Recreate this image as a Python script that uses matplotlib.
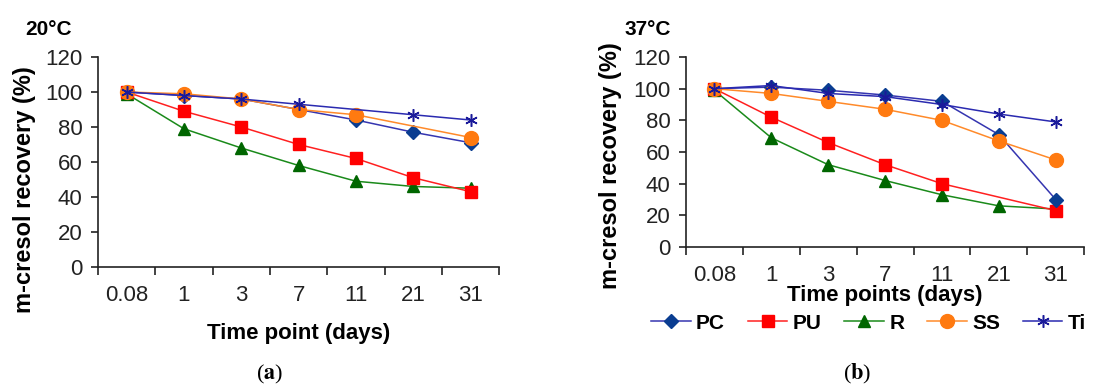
import numpy as np
import matplotlib.pyplot as plt

plt.rcParams['font.family'] = ['Liberation Sans', 'DejaVu Sans']
plt.rcParams['mathtext.fontset'] = 'stix'

days = ['0.08', '1', '3', '7', '11', '21', '31']

# 20 °C (nan = no marker at that time point)
pc_20 = [100, 98, 96, 90, 84, 77, 71]
pu_20 = [100, 89, 80, 70, 62, 51, 43]
r_20 = [99, 79, 68, 58, 49, 46, 45]
ss_20 = [100, 99, 96, 90, 87, np.nan, 74]
ti_20 = [100, 98, 96, 93, np.nan, 87, 84]

# 37 °C
pc_37 = [100, 101, 99, 96, 92, 71, 30]
pu_37 = [100, 82, 66, 52, 40, np.nan, 23]
r_37 = [99, 69, 52, 42, 33, 26, 24]
ss_37 = [100, 97, 92, 87, 80, 67, 55]
ti_37 = [100, 102, 97, 95, 90, 84, 79]

names = ['PC', 'PU', 'R', 'SS', 'Ti']
styles = {
    'PC': dict(color='#3535b0', marker='D', ms=7, mfc='#0a3d91', mec='#0a3d91'),
    'PU': dict(color='#ff2020', marker='s', ms=9, mfc='#ff0000', mec='#ff0000'),
    'R': dict(color='#1a8a1a', marker='^', ms=9, mfc='#006600', mec='#006600'),
    'SS': dict(color='#ff8a2a', marker='o', ms=10, mfc='#ff7a10', mec='#ff7a10'),
    'Ti': dict(color='#2a2ab0', marker=(6, 2, 0), ms=9, mfc='#1a1a9a', mec='#1a1a9a', mew=1.1),
}
draw_order = ['R', 'PU', 'PC', 'SS', 'Ti']

fig = plt.figure(figsize=(11, 3.88), dpi=100)
ax1 = fig.add_axes([0.089, 0.312, 0.365, 0.541])
ax2 = fig.add_axes([0.6236, 0.3634, 0.362, 0.4896])

x = np.arange(len(days))
handles = {}
for ax, series in [(ax1, dict(PC=pc_20, PU=pu_20, R=r_20, SS=ss_20, Ti=ti_20)),
                   (ax2, dict(PC=pc_37, PU=pu_37, R=r_37, SS=ss_37, Ti=ti_37))]:
    for name in draw_order:
        y = np.array(series[name], dtype=float)
        ok = ~np.isnan(y)
        st = dict(styles[name])
        mew = st.pop('mew', 1.0)
        h, = ax.plot(x[ok], y[ok], lw=1.1, mew=mew, label=name, **st)
        handles[name] = h
    ax.set_xlim(-0.5, 6.5)
    ax.set_ylim(0, 120)
    ax.set_yticks(range(0, 121, 20))
    ax.set_xticks(np.arange(-0.5, 7, 1))
    ax.set_xticklabels([])
    ax.set_xticks(x, minor=True)
    ax.set_xticklabels(days, minor=True)
    ax.tick_params(axis='x', which='minor', length=0, labelsize=16, colors='#222222', pad=13)
    ax.tick_params(axis='x', which='major', length=6, width=1.2, color='#222222')
    ax.tick_params(axis='y', length=5, width=1.2, labelsize=16, colors='#222222', pad=6)
    for s in ['top', 'right']:
        ax.spines[s].set_visible(False)
    for s in ['left', 'bottom']:
        ax.spines[s].set_color('#222222')
        ax.spines[s].set_linewidth(1.2)
    ax.set_ylabel('m-cresol recovery (%)', fontsize=17, fontweight='bold')

ax1.yaxis.set_label_coords(-0.155, 0.37)
ax2.yaxis.set_label_coords(-0.16, 0.43)
ax1.set_xlabel('Time point (days)', fontsize=16, fontweight='bold', labelpad=12)
ax2.set_xlabel('Time points (days)', fontsize=16, fontweight='bold', labelpad=-1)

fig.text(0.023, 0.925, '20°C', fontsize=15, fontweight='bold', va='center')
fig.text(0.568, 0.925, '37°C', fontsize=15, fontweight='bold', va='center')
fig.text(0.245, 0.035, r'($\mathbf{a}$)', fontsize=16, family='Liberation Serif', ha='center', va='center')
fig.text(0.779, 0.035, r'($\mathbf{b}$)', fontsize=16, family='Liberation Serif', ha='center', va='center')

fig.legend([handles[n] for n in names], names, loc='center left', bbox_to_anchor=(0.592, 0.167),
           ncol=5, frameon=False, handlelength=1.9, handletextpad=0.25, columnspacing=1.1,
           borderaxespad=0, borderpad=0, prop=dict(size=15, weight='bold'))

fig.savefig('out.png', dpi=100)
